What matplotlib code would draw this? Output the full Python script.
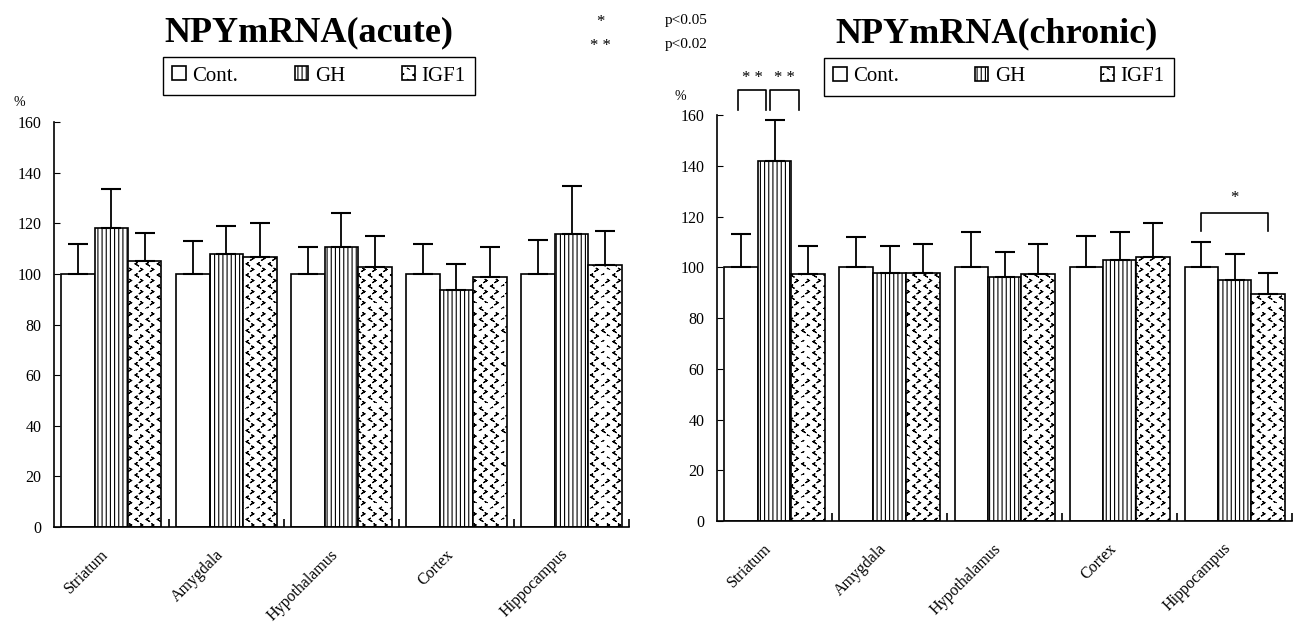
import numpy as np
import matplotlib
matplotlib.use("Agg")
import matplotlib.pyplot as plt
import matplotlib.hatch as mhatch
from matplotlib.path import Path

regions = ["Striatum", "Amygdala", "Hypothalamus", "Cortex", "Hippocampus"]
groups = ["Cont.", "GH", "IGF1"]

# acute, % of control (mean, SE)
acute_cont = [100, 100, 100, 100, 100]
acute_gh = [118.0, 108.0, 110.7, 93.6, 115.7]
acute_igf1 = [105.2, 106.8, 102.7, 98.6, 103.6]
acute_cont_se = [12.0, 13.1, 10.7, 11.8, 13.5]
acute_gh_se = [15.6, 10.9, 13.3, 10.3, 19.1]
acute_igf1_se = [10.8, 13.2, 12.1, 12.0, 13.3]

# chronic
chronic_cont = [100, 100, 100, 100, 100]
chronic_gh = [141.8, 97.8, 96.1, 103.0, 95.0]
chronic_igf1 = [97.3, 97.8, 97.3, 104.1, 89.3]
chronic_cont_se = [13.3, 12.0, 13.9, 12.2, 9.9]
chronic_gh_se = [16.2, 10.6, 9.9, 10.9, 10.2]
chronic_igf1_se = [11.1, 11.5, 12.0, 13.2, 8.3]


class ChevronHatch(mhatch.HatchPatternBase):
    """small < > texture for the IGF1 bars, takes over the '*' hatch"""
    rows = 18
    cols = 9

    def __init__(self, hatch, density):
        n = hatch.count("*")
        self.num_shapes = self.rows * self.cols if n else 0
        self.num_vertices = self.num_shapes * 5

    def set_vertices_and_codes(self, vertices, codes):
        w, h = 0.009, 0.011
        k = 0
        for r in range(self.rows):
            y = (r + 0.5) / self.rows
            shift = 0.25 if r % 2 == 0 else 0.75
            d = 1 if r % 2 == 0 else -1
            for c in range(self.cols):
                x = (c + shift) / self.cols
                a = (x + d * w, y + h)
                b = (x - d * w, y)
                e = (x + d * w, y - h)
                vertices[k:k + 5] = [a, b, e, b, a]
                codes[k:k + 5] = [Path.MOVETO] + [Path.LINETO] * 4
                k += 5


mhatch._hatch_types = [t for t in mhatch._hatch_types if t is not mhatch.Stars] + [ChevronHatch]

plt.rcParams["font.family"] = ["Liberation Serif", "DejaVu Serif"]
plt.rcParams["hatch.linewidth"] = 0.8

W = 0.29


def draw_panel(ax, series, errs):
    x = np.arange(len(regions))
    for i, (vals, se, hatch) in enumerate(zip(series, errs, ["", "||||", "*"])):
        pos = x + (i - 1) * W
        ax.bar(pos, vals, W, color="white", edgecolor="black", linewidth=1.2,
               hatch=hatch, label=groups[i], zorder=2)
        ax.errorbar(pos, vals, yerr=[np.zeros(len(vals)), se], fmt="none",
                    ecolor="black", elinewidth=1.3, capsize=7, capthick=1.5, zorder=3)
    ax.set_xlim(-0.5, len(regions) - 0.5)
    ax.set_ylim(0, 160)
    ax.set_yticks(range(0, 161, 20))
    ax.set_xticks(x)
    ax.set_xticklabels(regions, rotation=45, ha="right")
    ax.set_xticks(list(x[1:] - 0.5) + [len(regions) - 0.5], minor=True)
    for s in ["top", "right"]:
        ax.spines[s].set_visible(False)
    for s in ["left", "bottom"]:
        ax.spines[s].set_linewidth(1.2)
    ax.tick_params(axis="y", direction="in", length=4, pad=9, labelsize=11.5)
    ax.tick_params(axis="x", which="major", length=0, pad=14, labelsize=11.5)
    ax.tick_params(axis="x", which="minor", direction="in", length=6, width=1.2)


def bracket(ax, x1, x2, y_top, y_low, label, star_y):
    ax.plot([x1, x1, x2, x2], [y_low, y_top, y_top, y_low], color="black",
            lw=1.2, clip_on=False, zorder=4)
    ax.text((x1 + x2) / 2, star_y, label, ha="center", va="center", fontsize=12)


fig = plt.figure(figsize=(12.94, 6.24), dpi=100)
ax1 = fig.add_axes([0.0417, 0.1554, 0.4444, 0.649])
ax2 = fig.add_axes([0.5541, 0.165, 0.4444, 0.6506])

draw_panel(ax1, [acute_cont, acute_gh, acute_igf1],
           [acute_cont_se, acute_gh_se, acute_igf1_se])
draw_panel(ax2, [chronic_cont, chronic_gh, chronic_igf1],
           [chronic_cont_se, chronic_gh_se, chronic_igf1_se])

# significance marks, chronic panel
bracket(ax2, -W - 0.03, -0.07, 169.8, 161.9, "* *", 174.5)
bracket(ax2, -0.04, W - 0.08, 169.8, 161.9, "* *", 174.5)
bracket(ax2, 4 - W, 4 + W, 121.5, 114.3, "*", 127.5)

fig.text(0.2388, 0.947, "NPYmRNA(acute)", ha="center", va="center",
         fontsize=26, fontweight="bold")
fig.text(0.7705, 0.945, "NPYmRNA(chronic)", ha="center", va="center",
         fontsize=26, fontweight="bold")

for ax, box in [(ax1, (0.126, 0.843, 0.2411, 0.07)), (ax2, (0.6368, 0.842, 0.2705, 0.07))]:
    h, l = ax.get_legend_handles_labels()
    fig.legend(h, l, loc="center", bbox_to_anchor=box, mode="expand", ncols=3,
               fontsize=15, frameon=True, fancybox=False, framealpha=1,
               edgecolor="black", handlelength=0.65, handleheight=0.65,
               handletextpad=0.3, borderpad=0.45, borderaxespad=0)

fig.text(0.0108, 0.8365, "%", fontsize=10, va="center")
fig.text(0.521, 0.8446, "%", fontsize=10, va="center")

fig.text(0.4637, 0.965, "*", fontsize=12, ha="center", va="center")
fig.text(0.4637, 0.926, "* *", fontsize=12, ha="center", va="center")
fig.text(0.514, 0.967, "p<0.05", fontsize=11, va="center")
fig.text(0.514, 0.928, "p<0.02", fontsize=11, va="center")

fig.savefig("out.png", dpi=100)
